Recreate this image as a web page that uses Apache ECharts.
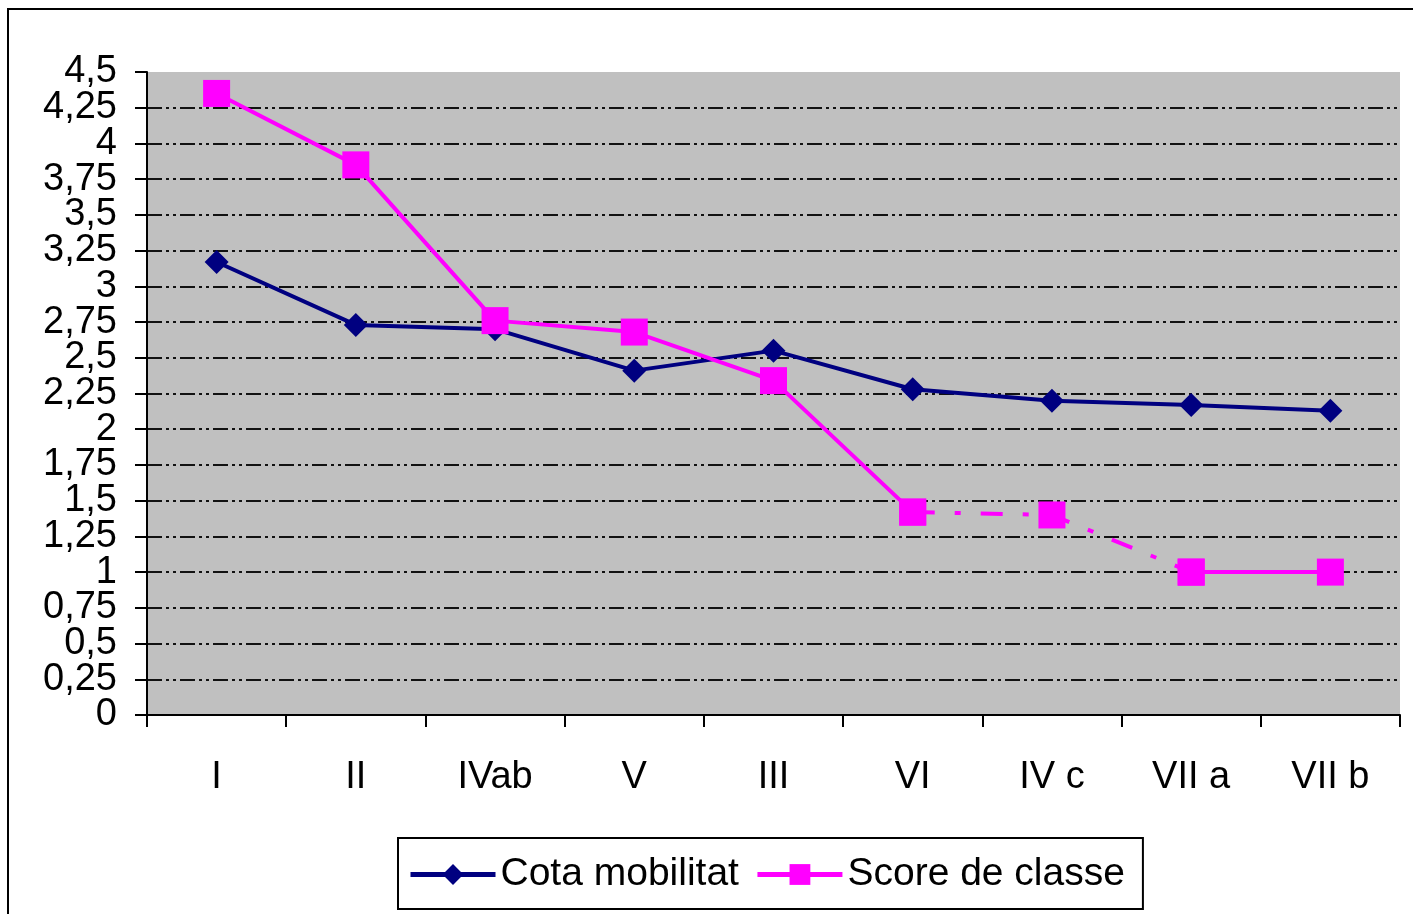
<!DOCTYPE html>
<html><head><meta charset="utf-8">
<script src="https://cdn.jsdelivr.net/npm/echarts@6/dist/echarts.min.js"></script>
<style>html,body{margin:0;padding:0;background:#fff}#c{width:1413px;height:914px}</style>
</head><body><div id="c"></div>
<script>
const categories = ['I', 'II', 'IVab', 'V', 'III', 'VI', 'IV c', 'VII a', 'VII b'];
const cotaMobilitat = [3.17, 2.73, 2.70, 2.41, 2.55, 2.28, 2.20, 2.17, 2.13];
const scoreClasse = [4.35, 3.85, 2.76, 2.68, 2.34, 1.42, 1.40, 1.0, 1.0];
// segments VI -> IV c -> VII a are drawn dashed in the reference
const dashedFrom = 5, dashedTo = 7;
const yTicks = { min: 0, max: 4.5, interval: 0.25 };

const solidScore = scoreClasse.map((v, i) => (i > dashedFrom && i < dashedTo) ? null : v);
const dashedScore = scoreClasse.map((v, i) => (i >= dashedFrom && i <= dashedTo) ? v : null);

const FONT = 'Liberation Sans, Arial, sans-serif';
const fmt = v => String(v).replace('.', ',');
const isEven = v => Math.abs(Math.round(v * 2) - v * 2) < 1e-6;
const labelBase = { fontFamily: FONT, fontSize: 38, color: '#000', margin: 30, hideOverlap: false };

const chart = echarts.init(document.getElementById('c'), null, { renderer: 'canvas' });
chart.setOption({
  backgroundColor: '#fff',
  animation: false,
  graphic: [{
    type: 'rect', shape: { x: 8, y: 9, width: 1500, height: 1000 },
    style: { fill: 'none', stroke: '#000', lineWidth: 2 }, z: 0
  }],
  grid: { left: 147, right: 13, top: 72, bottom: 199, show: true, backgroundColor: '#c0c0c0', borderWidth: 0 },
  legend: {
    left: 398, top: 838, padding: [17, 18, 15, 10], itemGap: 16,
    borderColor: '#000', borderWidth: 2, backgroundColor: '#fff',
    itemWidth: 85, itemHeight: 26,
    textStyle: { fontFamily: FONT, fontSize: 39, color: '#000' },
    data: [
      { name: 'Cota mobilitat', itemStyle: { color: '#000080' }, lineStyle: { width: 5, color: '#000080' } },
      { name: 'Score de classe', itemStyle: { color: '#ff00ff' }, lineStyle: { width: 5, color: '#ff00ff' } }
    ]
  },
  xAxis: {
    type: 'category', data: categories, boundaryGap: true,
    axisLine: { lineStyle: { color: '#000', width: 2 } },
    axisTick: { show: true, length: 12, lineStyle: { color: '#000', width: 2 }, alignWithLabel: false },
    axisLabel: { fontFamily: FONT, fontSize: 38, color: '#000', margin: 44 },
    splitLine: { show: false }
  },
  yAxis: [{
    type: 'value', min: yTicks.min, max: yTicks.max, interval: yTicks.interval, position: 'left',
    axisLine: { show: true, lineStyle: { color: '#000', width: 2 } },
    axisTick: { show: true, length: 12, lineStyle: { color: '#000', width: 2 } },
    axisLabel: Object.assign({}, labelBase, { showMinLabel: true, showMaxLabel: true,
      formatter: v => isEven(v) ? fmt(v) : '' }),
    splitLine: { show: true, showMinLine: false, showMaxLine: false,
      lineStyle: { color: '#111', width: 2, type: [15, 4, 3, 4, 3, 4] } }
  }, {
    type: 'value', min: yTicks.min, max: yTicks.max, interval: yTicks.interval, position: 'left', offset: 0,
    axisLine: { show: false }, axisTick: { show: false }, splitLine: { show: false },
    axisLabel: Object.assign({}, labelBase, { showMinLabel: false, showMaxLabel: false,
      formatter: v => isEven(v) ? '' : fmt(v) })
  }],
  series: [
    { name: 'Cota mobilitat', type: 'line', data: cotaMobilitat, symbol: 'diamond', symbolSize: 24,
      lineStyle: { color: '#000080', width: 4 }, itemStyle: { color: '#000080' }, z: 3 },
    { name: 'Score de classe', type: 'line', data: solidScore, symbol: 'rect', symbolSize: 27,
      connectNulls: false,
      lineStyle: { color: '#ff00ff', width: 4 }, itemStyle: { color: '#ff00ff' }, z: 4 },
    { name: 'Score de classe', type: 'line', data: dashedScore, symbol: 'rect', symbolSize: 27,
      lineStyle: { color: '#ff00ff', width: 4, type: [22, 20, 6, 20] }, itemStyle: { color: '#ff00ff' }, z: 4 }
  ]
});
</script></body></html>
